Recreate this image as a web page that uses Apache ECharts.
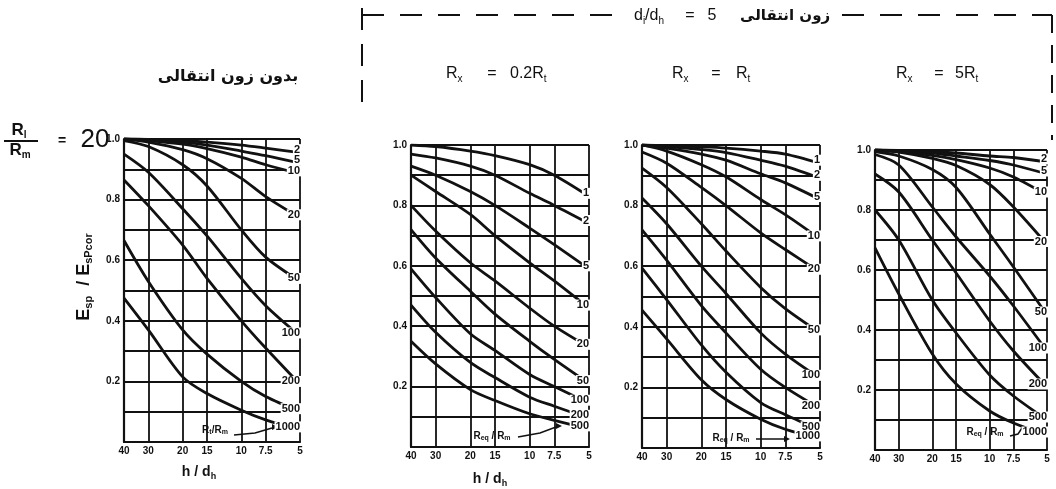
<!DOCTYPE html>
<html><head><meta charset="utf-8">
<script src="https://cdn.jsdelivr.net/npm/echarts@6/dist/echarts.min.js"></script>
<style>html,body{margin:0;padding:0;background:#fff}#c{width:1056px;height:489px}</style>
</head><body><div id="c"></div>
<script>
// x positions (h/d_h) at which curve values were read
const hdTicks = [40, 30, 20, 15, 10, 7.5, 5];

// Panel A: no transition zone (Rs/Rm = 20), curves = Rt/Rm
const panelA_labels = ['2', '5', '10', '20', '50', '100', '200', '500', '1000'];
const panelA_c2    = [1.0, 0.999, 0.995, 0.99, 0.98, 0.97, 0.955];
const panelA_c5    = [1.0, 0.998, 0.99, 0.98, 0.96, 0.945, 0.92];
const panelA_c10   = [1.0, 0.995, 0.983, 0.968, 0.94, 0.915, 0.885];
const panelA_c20   = [1.0, 0.99, 0.965, 0.935, 0.87, 0.81, 0.74];
const panelA_c50   = [0.995, 0.975, 0.915, 0.845, 0.70, 0.61, 0.53];
const panelA_c100  = [0.95, 0.89, 0.77, 0.68, 0.54, 0.45, 0.35];
const panelA_c200  = [0.865, 0.78, 0.65, 0.54, 0.40, 0.31, 0.19];
const panelA_c500  = [0.665, 0.53, 0.37, 0.29, 0.20, 0.15, 0.10];
const panelA_c1000 = [0.475, 0.37, 0.215, 0.16, 0.105, 0.073, 0.04];

// Panel B: Rx = 0.2Rt, curves = Req/Rm
const panelB_labels = ['1', '2', '5', '10', '20', '50', '100', '200', '500'];
const panelB_c1   = [1.0, 0.995, 0.98, 0.965, 0.935, 0.90, 0.83];
const panelB_c2   = [0.97, 0.957, 0.93, 0.90, 0.84, 0.80, 0.74];
const panelB_c5   = [0.93, 0.90, 0.846, 0.80, 0.725, 0.67, 0.59];
const panelB_c10  = [0.90, 0.846, 0.77, 0.70, 0.61, 0.55, 0.46];
const panelB_c20  = [0.80, 0.715, 0.61, 0.55, 0.46, 0.40, 0.33];
const panelB_c50  = [0.72, 0.626, 0.516, 0.44, 0.35, 0.29, 0.21];
const panelB_c100 = [0.59, 0.495, 0.375, 0.32, 0.24, 0.20, 0.145];
const panelB_c200 = [0.47, 0.38, 0.28, 0.23, 0.165, 0.135, 0.095];
const panelB_c500 = [0.35, 0.275, 0.19, 0.154, 0.11, 0.088, 0.06];

// Panel C: Rx = Rt
const panelC_labels = ['1', '2', '5', '10', '20', '50', '100', '200', '500', '1000'];
const panelC_c1    = [1.0, 0.998, 0.994, 0.99, 0.98, 0.97, 0.94];
const panelC_c2    = [1.0, 0.995, 0.985, 0.975, 0.95, 0.93, 0.89];
const panelC_c5    = [1.0, 0.99, 0.97, 0.95, 0.905, 0.875, 0.82];
const panelC_c10   = [1.0, 0.98, 0.935, 0.895, 0.82, 0.77, 0.69];
const panelC_c20   = [0.977, 0.94, 0.86, 0.80, 0.71, 0.655, 0.58];
const panelC_c50   = [0.924, 0.86, 0.74, 0.65, 0.53, 0.46, 0.38];
const panelC_c100  = [0.825, 0.74, 0.60, 0.51, 0.38, 0.31, 0.23];
const panelC_c200  = [0.72, 0.62, 0.47, 0.38, 0.26, 0.20, 0.13];
const panelC_c500  = [0.594, 0.49, 0.34, 0.25, 0.15, 0.11, 0.06];
const panelC_c1000 = [0.455, 0.36, 0.225, 0.16, 0.095, 0.062, 0.03];

// Panel D: Rx = 5Rt
const panelD_labels = ['2', '5', '10', '20', '50', '100', '200', '500', '1000'];
const panelD_c2    = [1.0, 0.999, 0.995, 0.99, 0.98, 0.975, 0.96];
const panelD_c5    = [1.0, 0.997, 0.99, 0.98, 0.965, 0.95, 0.92];
const panelD_c10   = [1.0, 0.995, 0.982, 0.968, 0.94, 0.91, 0.85];
const panelD_c20   = [1.0, 0.993, 0.972, 0.948, 0.885, 0.81, 0.685];
const panelD_c50   = [0.995, 0.98, 0.935, 0.875, 0.72, 0.61, 0.45];
const panelD_c100  = [0.985, 0.95, 0.81, 0.71, 0.58, 0.48, 0.33];
const panelD_c200  = [0.92, 0.86, 0.70, 0.59, 0.43, 0.33, 0.21];
const panelD_c500  = [0.80, 0.70, 0.50, 0.39, 0.25, 0.18, 0.10];
const panelD_c1000 = [0.674, 0.52, 0.32, 0.22, 0.13, 0.09, 0.05];

const panels = [
  {labels: panelA_labels, curves: [panelA_c2, panelA_c5, panelA_c10, panelA_c20, panelA_c50, panelA_c100, panelA_c200, panelA_c500, panelA_c1000]},
  {labels: panelB_labels, curves: [panelB_c1, panelB_c2, panelB_c5, panelB_c10, panelB_c20, panelB_c50, panelB_c100, panelB_c200, panelB_c500]},
  {labels: panelC_labels, curves: [panelC_c1, panelC_c2, panelC_c5, panelC_c10, panelC_c20, panelC_c50, panelC_c100, panelC_c200, panelC_c500, panelC_c1000]},
  {labels: panelD_labels, curves: [panelD_c2, panelD_c5, panelD_c10, panelD_c20, panelD_c50, panelD_c100, panelD_c200, panelD_c500, panelD_c1000]}
];

const gridBoxes = [
  {left: 124, top: 139, width: 176, height: 303},
  {left: 411, top: 145, width: 178, height: 302},
  {left: 642, top: 145, width: 178, height: 303},
  {left: 875, top: 150, width: 172, height: 300}
];

const INK = '#111';
const tickFont = {color: INK, fontFamily: 'Liberation Sans', fontWeight: 'bold', fontSize: 10};

const xAxes = gridBoxes.map((g, i) => ({
  type: 'log', logBase: 10, gridIndex: i, min: 5, max: 40, inverse: true,
  axisLine: {show: true, lineStyle: {color: INK, width: 2.2}},
  axisTick: {show: false, customValues: hdTicks},
  axisLabel: Object.assign({customValues: hdTicks, margin: 4, formatter: v => String(+(+v).toFixed(1))}, tickFont),
  splitLine: {show: true, lineStyle: {color: INK, width: 1.8}}
}));
const yAxes = gridBoxes.map((g, i) => ({
  type: 'value', gridIndex: i, min: 0, max: 1, interval: 0.1,
  axisLine: {show: true, lineStyle: {color: INK, width: 2.2}},
  axisTick: {show: false},
  axisLabel: Object.assign({margin: 4, formatter: v => {
    const k = Math.round(v * 10);
    if (k <= 0 || k % 2) return '';
    return k === 10 ? '1.0' : (k / 10).toFixed(1);
  }}, tickFont),
  splitLine: {show: true, lineStyle: {color: INK, width: 1.8}}
}));

const series = [];
panels.forEach((p, pi) => {
  p.curves.forEach((vals, ci) => {
    const lab = p.labels[ci];
    series.push({
      type: 'line', name: lab, xAxisIndex: pi, yAxisIndex: pi,
      data: hdTicks.map((x, k) => [x, vals[k]]),
      smooth: 0.3, symbol: 'none', silent: true,
      lineStyle: {color: INK, width: 2.8},
      endLabel: {show: true, formatter: () => lab, color: INK, fontFamily: 'Liberation Sans',
        fontWeight: 'bold', fontSize: 11, backgroundColor: '#fff', padding: [0, 1],
        distance: 0, align: 'right', offset: [1, -3]}
    });
  });
});

const sub = {fontSize: 10, padding: [10, 0, 0, 0], fill: INK, fontFamily: 'Liberation Sans'};
const big = {fontSize: 16, fill: INK, fontFamily: 'Liberation Sans'};
function txt(x, y, text, extra) {
  return {type: 'text', x: x, y: y, silent: true, style: Object.assign({
    text: text, fill: INK, textAlign: 'center', align: 'center',
    textVerticalAlign: 'middle', verticalAlign: 'middle'}, extra || {})};
}
function ltxt(x, y, text, extra) {
  return txt(x, y, text, Object.assign({textAlign: 'left', align: 'left'}, extra || {}));
}
function seg(x1, y1, x2, y2, w, dash) {
  return {type: 'line', silent: true, shape: {x1, y1, x2, y2},
    style: {stroke: INK, lineWidth: w || 1.5, lineDash: dash || null}};
}
function arrowHead(x, y, dir) {
  return {type: 'polygon', silent: true, shape: {points: [[x, y], [x - 6 * dir, y - 3], [x - 6 * dir, y + 3]]}, style: {fill: INK}};
}
const annRich = {r: {fontSize: 10, fontWeight: 'bold', fill: INK, fontFamily: 'Liberation Sans'},
                 s: {fontSize: 7, fontWeight: 'bold', padding: [5, 0, 0, 0], fill: INK, fontFamily: 'Liberation Sans'}};
const boldR = {fontSize: 17, fontWeight: 'bold', fill: INK, fontFamily: 'Liberation Sans'};

const graphics = [
  // left titles
  txt(228, 77, 'بدون زون انتقالی', {font: 'bold 16px "DejaVu Sans"'}),
  txt(19, 130, '{r|R}{s|l}', {rich: {r: boldR, s: Object.assign({}, sub, {fontWeight: 'bold'})}}),
  seg(4, 141, 38, 141, 2),
  txt(20, 150, '{r|R}{s|m}', {rich: {r: boldR, s: Object.assign({}, sub, {fontWeight: 'bold'})}}),
  txt(62, 141, '=', {font: 'bold 14px "Liberation Sans"'}),
  txt(95, 140, '20', {font: '26px "Liberation Sans"'}),
  // bracket for transition zone
  seg(362, 8, 362, 112, 2, [22, 14]),
  seg(362, 15, 628, 15, 2, [22, 16]),
  seg(842, 15, 1052, 15, 2, [22, 16]),
  seg(1052, 15, 1052, 140, 2, [18, 12]),
  ltxt(634, 16, '{r|d}{s|i}{r|/d}{s|h}', {rich: {r: big, s: sub}}),
  txt(690, 16, '=', {font: '16px "Liberation Sans"'}),
  txt(712, 16, '5', {font: '16px "Liberation Sans"'}),
  ltxt(740, 16, 'زون انتقالی', {font: 'bold 15px "DejaVu Sans"'}),
  // subtitles
  ltxt(446, 74, '{r|R}{s|x}', {rich: {r: big, s: sub}}),
  txt(492, 74, '=', {font: '16px "Liberation Sans"'}),
  ltxt(510, 74, '{r|0.2R}{s|t}', {rich: {r: big, s: sub}}),
  ltxt(672, 74, '{r|R}{s|x}', {rich: {r: big, s: sub}}),
  txt(716, 74, '=', {font: '16px "Liberation Sans"'}),
  ltxt(736, 74, '{r|R}{s|t}', {rich: {r: big, s: sub}}),
  ltxt(896, 74, '{r|R}{s|x}', {rich: {r: big, s: sub}}),
  txt(939, 74, '=', {font: '16px "Liberation Sans"'}),
  ltxt(955, 74, '{r|5R}{s|t}', {rich: {r: big, s: sub}}),
  // y axis title
  Object.assign(txt(84, 277, '{r|E}{s|sp}{r|  / E}{s|sPcor}', {rich: {
    r: {fontSize: 18, fontWeight: 'bold', fill: INK, fontFamily: 'Liberation Sans'},
    s: {fontSize: 11, fontWeight: 'bold', padding: [10, 0, 0, 0], fill: INK, fontFamily: 'Liberation Sans'}}}), {rotation: Math.PI / 2}),
  // x axis titles
  txt(199, 472, '{r|h / d}{s|h}', {rich: {r: {fontSize: 14, fontWeight: 'bold', fill: INK, fontFamily: 'Liberation Sans'}, s: Object.assign({}, sub, {fontSize: 9, fontWeight: 'bold'})}}),
  txt(490, 479, '{r|h / d}{s|h}', {rich: {r: {fontSize: 14, fontWeight: 'bold', fill: INK, fontFamily: 'Liberation Sans'}, s: Object.assign({}, sub, {fontSize: 9, fontWeight: 'bold'})}}),
  // curve-parameter annotations
  txt(215, 430, '{r|R}{s|t}{r|/R}{s|m}', {rich: annRich}),
  {type: 'polyline', silent: true, shape: {points: [[234, 435], [255, 433], [272, 428]]}, style: {stroke: INK, lineWidth: 1.5, fill: null}},
  arrowHead(278, 427, 1),
  txt(492, 436, '{r|R}{s|eq}{r| / R}{s|m}', {rich: annRich}),
  {type: 'polyline', silent: true, shape: {points: [[518, 437], [540, 433], [556, 427]]}, style: {stroke: INK, lineWidth: 1.5, fill: null}},
  arrowHead(562, 426, 1),
  txt(731, 438, '{r|R}{s|eq}{r| / R}{s|m}', {rich: annRich}),
  seg(756, 439, 784, 439, 1.5),
  arrowHead(790, 439, 1),
  txt(985, 432, '{r|R}{s|eq}{r| / R}{s|m}', {rich: annRich}),
  {type: 'polyline', silent: true, shape: {points: [[1010, 436], [1018, 434], [1022, 428]]}, style: {stroke: INK, lineWidth: 1.5, fill: null}}
];

const chart = echarts.init(document.getElementById('c'), null, {renderer: 'canvas'});
chart.setOption({
  animation: false,
  backgroundColor: '#fff',
  grid: gridBoxes,
  xAxis: xAxes,
  yAxis: yAxes,
  series: series,
  graphic: {elements: graphics}
});
</script>
</body></html>
